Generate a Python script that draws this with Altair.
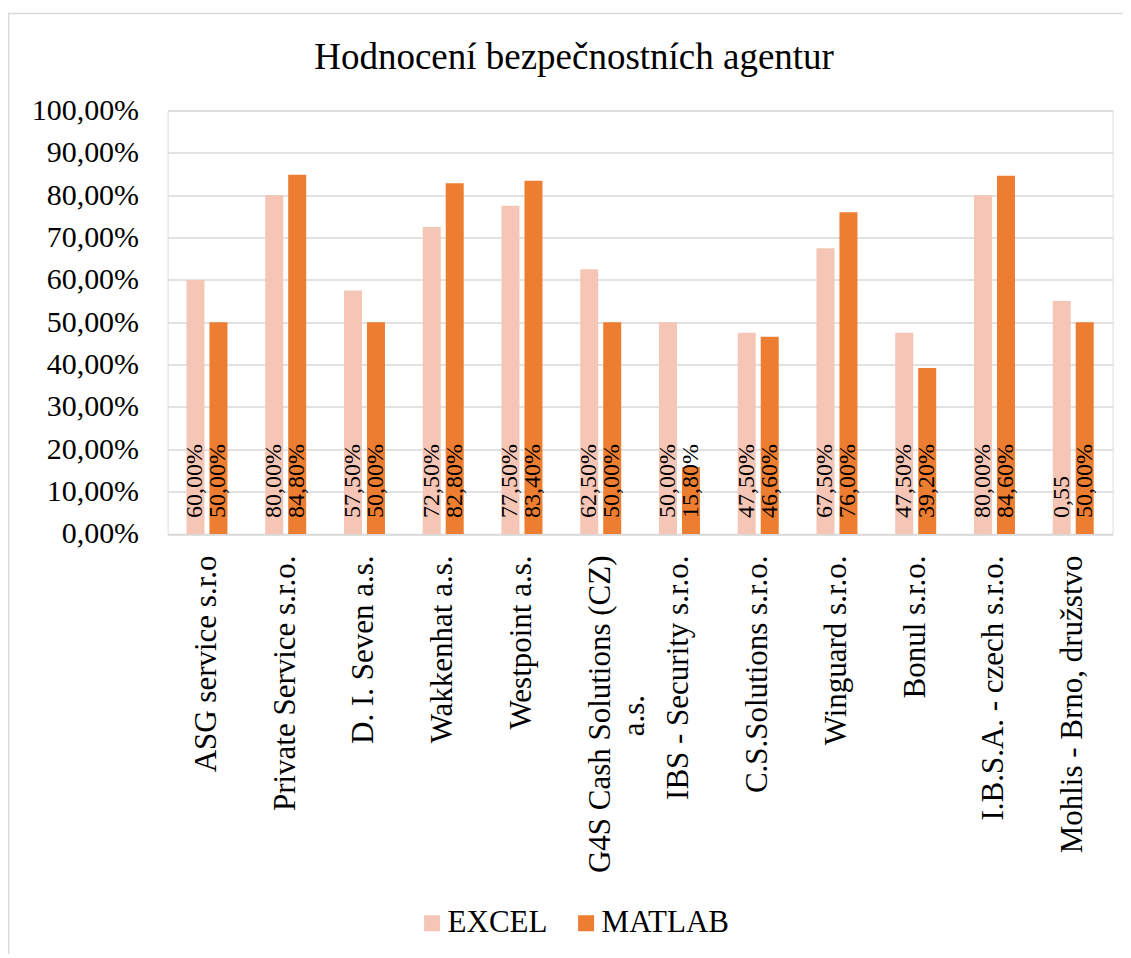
import altair as alt
import pandas as pd

categories = [
    "ASG service s.r.o",
    "Private Service s.r.o.",
    "D. I. Seven a.s.",
    "Wakkenhat a.s.",
    "Westpoint a.s.",
    "G4S Cash Solutions (CZ) a.s.",
    "IBS - Security s.r.o.",
    "C.S.Solutions s.r.o.",
    "Winguard s.r.o.",
    "Bonul s.r.o.",
    "I.B.S.A. - czech s.r.o.",
    "Mohlis - Brno, družstvo",
]
series = ["EXCEL", "MATLAB"]
excel_values = [0.60, 0.80, 0.575, 0.725, 0.775, 0.625, 0.50, 0.475, 0.675, 0.475, 0.80, 0.55]
matlab_values = [0.50, 0.848, 0.50, 0.828, 0.834, 0.50, 0.158, 0.466, 0.76, 0.392, 0.846, 0.50]
excel_labels = ["60,00%", "80,00%", "57,50%", "72,50%", "77,50%", "62,50%",
                "50,00%", "47,50%", "67,50%", "47,50%", "80,00%", "0,55"]
matlab_labels = ["50,00%", "84,80%", "50,00%", "82,80%", "83,40%", "50,00%",
                 "15,80%", "46,60%", "76,00%", "39,20%", "84,60%", "50,00%"]
colors = ["#F5C6B6", "#ED7D31"]
title_text = "Hodnocení bezpečnostních agentur"
y_ticks = [0.0, 0.1, 0.2, 0.3, 0.4, 0.5, 0.6, 0.7, 0.8, 0.9, 1.0]

rows = []
for i, c in enumerate(categories):
    rows.append({"cat": c, "series": "EXCEL", "value": excel_values[i], "label": excel_labels[i]})
    rows.append({"cat": c, "series": "MATLAB", "value": matlab_values[i], "label": matlab_labels[i]})
df = pd.DataFrame(rows)

FONT = "Liberation Serif"
PAD = "\u2003" * 4 + "\u2002" + "\u200b"

# two-line label for the long category name
long_cat = "G4S Cash Solutions (CZ) a.s."
label_expr = (
    f"datum.label == '{long_cat}' ? ['G4S Cash Solutions (CZ)', 'a.s.{PAD}'] : datum.label"
)

x_enc = alt.X(
    "cat:N",
    sort=categories,
    scale=alt.Scale(paddingInner=0, paddingOuter=0),
    axis=alt.Axis(
        title=None,
        labelAngle=-90,
        labelAlign="right",
        labelBaseline="middle",
        labelPadding=21,
        labelFontSize=31,
        labelFont=FONT,
        labelColor="black",
        labelLimit=500,
        labelLineHeight=34,
        labelExpr=label_expr,
        ticks=False,
        tickSize=0,
        domainColor="#d9d9d9",
        domainWidth=1.5,
        labelOverlap=False,
    ),
)
xoff_enc = alt.XOffset(
    "series:N", sort=series, scale=alt.Scale(paddingInner=0.217, paddingOuter=0.821)
)

y_axis = alt.Axis(
    title=None,
    values=y_ticks,
    labelExpr="replace(format(datum.value, '.2%'), '.', ',')",
    labelFontSize=30,
    labelFont=FONT,
    labelColor="black",
    labelPadding=29,
    grid=True,
    gridColor="#d9d9d9",
    gridWidth=1.5,
    domain=False,
    ticks=False,
    tickSize=0,
)

base = alt.Chart(df)

bars = base.mark_bar().encode(
    x=x_enc,
    xOffset=xoff_enc,
    y=alt.Y("value:Q", scale=alt.Scale(domain=[0, 1], nice=False), axis=y_axis),
    color=alt.Color(
        "series:N",
        sort=series,
        scale=alt.Scale(domain=series, range=colors),
        legend=alt.Legend(
            title=None,
            orient="none",
            legendX=249,
            legendY=797,
            direction="horizontal",
            symbolType="square",
            symbolSize=256,
            symbolStrokeWidth=0,
            labelFontSize=31,
            labelFont=FONT,
            labelColor="black",
            labelOffset=0,
            columnPadding=23,
        ),
    ),
)

texts = base.mark_text(
    angle=270, align="left", baseline="middle", dx=16, fontSize=24, font=FONT, color="black"
).encode(
    x=x_enc,
    xOffset=xoff_enc,
    y=alt.datum(0),
    text="label:N",
)

border = alt.Chart(pd.DataFrame({"a": [0]})).mark_rect(
    fillOpacity=0, stroke="#d9d9d9", strokeWidth=1.5
).encode(
    x=alt.value(-159),
    x2=alt.value(1500),
    y=alt.value(-97),
    y2=alt.value(1500),
)

chart = (
    alt.layer(border, bars, texts)
    .properties(
        width=945,
        height=423.5,
        autosize=alt.AutoSizeParams(type="none"),
        padding={"left": 159.6, "top": 102.5, "right": 10, "bottom": 420},
        title=alt.TitleParams(
            title_text,
            font=FONT,
            fontSize=37,
            fontWeight="normal",
            color="black",
            anchor="middle",
            dx=-66,
            baseline="alphabetic",
            offset=-93,
        ),
    )
    .configure_view(stroke=None)
    .configure(background="white")
)

chart.save("out.html", embed_options={"renderer": "svg", "actions": False})
